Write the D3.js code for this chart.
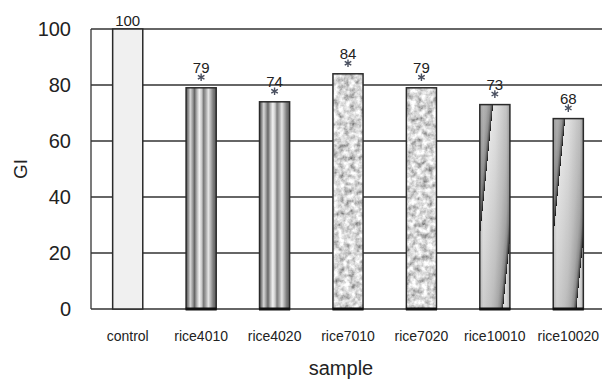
<!DOCTYPE html>
<html><head><meta charset="utf-8">
<script src="https://cdn.jsdelivr.net/npm/d3@7"></script>
<style>
html,body{margin:0;padding:0;background:#fff;}
svg{display:block;font-family:"Liberation Sans",Arial,sans-serif;}
</style></head>
<body>
<svg id="chart" width="602" height="379"></svg>
<script>
const categories = ["control","rice4010","rice4020","rice7010","rice7020","rice10010","rice10020"];
const values = [100,79,74,84,79,73,68];
const significant = [false,true,true,true,true,true,true];
const textures = ["plain","stripe","stripe","granite","granite","twist","twist"];
const yTicks = [0,20,40,60,80,100];
const yLabel = "GI";
const xLabel = "sample";

const svg = d3.select("#chart");
const L = 91, R = 605, T = 29, B = 309;

const x = d3.scaleBand().domain(categories).range([L, R]).paddingInner(0.59).paddingOuter(0.295);
const y = d3.scaleLinear().domain([0,100]).range([B, T]);

const defs = svg.append("defs");

// vertical stripes gradient
const sg = defs.append("linearGradient").attr("id","stripe").attr("x1","0").attr("x2","1").attr("y1","0").attr("y2","0");
[[0,"#555"],[0.07,"#8a8a8a"],[0.14,"#d8d8d8"],[0.22,"#9a9a9a"],[0.28,"#666"],[0.36,"#b5b5b5"],[0.44,"#f2f2f2"],[0.52,"#c8c8c8"],[0.58,"#7a7a7a"],[0.66,"#a8a8a8"],[0.74,"#e6e6e6"],[0.82,"#b0b0b0"],[0.9,"#7c7c7c"],[1,"#5a5a5a"]]
  .forEach(([o,c]) => sg.append("stop").attr("offset",o).attr("stop-color",c));

// granite filter
const gf = defs.append("filter").attr("id","granite").attr("x","0").attr("y","0").attr("width","1").attr("height","1");
gf.append("feTurbulence").attr("type","fractalNoise").attr("baseFrequency","0.18").attr("numOctaves","3").attr("seed","4").attr("result","n");
gf.append("feColorMatrix").attr("in","n").attr("type","matrix")
  .attr("values","1.35 0 0 0 0.0  1.35 0 0 0 0.0  1.35 0 0 0 0.0  0 0 0 0 1").attr("result","g");
gf.append("feComposite").attr("in","g").attr("in2","SourceGraphic").attr("operator","in");

// cylinder edge shading overlay
const cg = defs.append("linearGradient").attr("id","edgeShade").attr("x1","0").attr("x2","1").attr("y1","0").attr("y2","0");
[[0,"rgba(0,0,0,0.18)"],[0.12,"rgba(0,0,0,0.02)"],[0.5,"rgba(0,0,0,0)"],[0.88,"rgba(0,0,0,0.04)"],[1,"rgba(0,0,0,0.2)"]]
  .forEach(([o,c]) => cg.append("stop").attr("offset",o).attr("stop-color",c));

// twisted gradient: "/" shaped seam, repeating across the bar
const slope = -0.1;              // horizontal shift per pixel going down
const nrm = Math.sqrt(1 + slope*slope);
categories.forEach((c,i) => {
  if (textures[i] !== "twist") return;
  const xl = x(c), w = x.bandwidth();
  const ux = 1/nrm, uy = -slope/nrm;
  const x1 = xl + 0.77*w, y1 = B;
  const g = defs.append("linearGradient").attr("id","twist"+i)
    .attr("gradientUnits","userSpaceOnUse").attr("spreadMethod","repeat")
    .attr("x1",x1).attr("y1",y1).attr("x2",x1 + w*ux).attr("y2",y1 + w*uy);
  [[0,"#e6e6e6"],[0.3,"#d4d4d4"],[0.6,"#c0c0c0"],[0.8,"#aaaaaa"],[0.9,"#909090"],[0.96,"#5a5a5a"],[1,"#1a1a1a"]]
    .forEach(([o,col]) => g.append("stop").attr("offset",o).attr("stop-color",col));
});

// gridlines
svg.append("g").selectAll("line").data(yTicks).join("line")
  .attr("x1",L).attr("x2",602).attr("y1",d=>y(d)).attr("y2",d=>y(d))
  .attr("stroke","#333").attr("stroke-width",1.3);
// left axis line
svg.append("line").attr("x1",L).attr("x2",L).attr("y1",T).attr("y2",B).attr("stroke","#333").attr("stroke-width",1.3);

// y tick labels
svg.append("g").selectAll("text").data(yTicks).join("text")
  .attr("x",71).attr("y",d=>y(d)).attr("dy","0.36em").attr("text-anchor","end")
  .attr("font-size",20).attr("fill","#222").text(d=>d);

const star = d3.symbol().type(d3.symbolAsterisk).size(40);

// bars
const bars = svg.append("g");
categories.forEach((c,i) => {
  const xl = x(c), w = x.bandwidth(), yt = y(values[i]), h = B - yt;
  const t = textures[i];
  if (t === "plain") {
    bars.append("rect").attr("x",xl).attr("y",yt).attr("width",w).attr("height",h).attr("fill","#f0f0f0");
  } else if (t === "stripe") {
    bars.append("rect").attr("x",xl).attr("y",yt).attr("width",w).attr("height",h).attr("fill","url(#stripe)");
  } else if (t === "granite") {
    bars.append("rect").attr("x",xl).attr("y",yt).attr("width",w).attr("height",h).attr("fill","#bbb").attr("filter","url(#granite)");
  } else {
    bars.append("rect").attr("x",xl).attr("y",yt).attr("width",w).attr("height",h).attr("fill",`url(#twist${i})`);
    bars.append("rect").attr("x",xl).attr("y",yt).attr("width",w).attr("height",h).attr("fill","url(#edgeShade)");
  }
  bars.append("rect").attr("x",xl).attr("y",yt).attr("width",w).attr("height",h)
    .attr("fill","none").attr("stroke","#2a2a2a").attr("stroke-width",1.5);
  if (t !== "plain") {
    bars.append("line").attr("x1",xl-0.5).attr("x2",xl+w+0.5).attr("y1",B).attr("y2",B)
      .attr("stroke","#111").attr("stroke-width",3);
  }
  const cx = xl + w/2;
  if (significant[i]) {
    bars.append("text").attr("x",cx).attr("y",yt-15).attr("text-anchor","middle")
      .attr("font-size",15).attr("fill","#222").text(values[i]);
    bars.append("path").attr("d",star).attr("transform",`translate(${cx},${yt-10.5})`)
      .attr("fill","none").attr("stroke","#4a5060").attr("stroke-width",1.4);
  } else {
    bars.append("text").attr("x",cx).attr("y",yt-3).attr("text-anchor","middle")
      .attr("font-size",15).attr("fill","#222").text(values[i]);
  }
});

// x labels
svg.append("g").selectAll("text").data(categories).join("text")
  .attr("x",d=>x(d)+x.bandwidth()/2).attr("y",341).attr("text-anchor","middle")
  .attr("font-size",14).attr("fill","#222").text(d=>d);

svg.append("text").attr("x",341).attr("y",375).attr("text-anchor","middle")
  .attr("font-size",20).attr("fill","#222").text(xLabel);
svg.append("text").attr("transform","translate(27,169) rotate(-90)").attr("text-anchor","middle")
  .attr("font-size",19).attr("fill","#222").text(yLabel);
</script>
</body></html>
